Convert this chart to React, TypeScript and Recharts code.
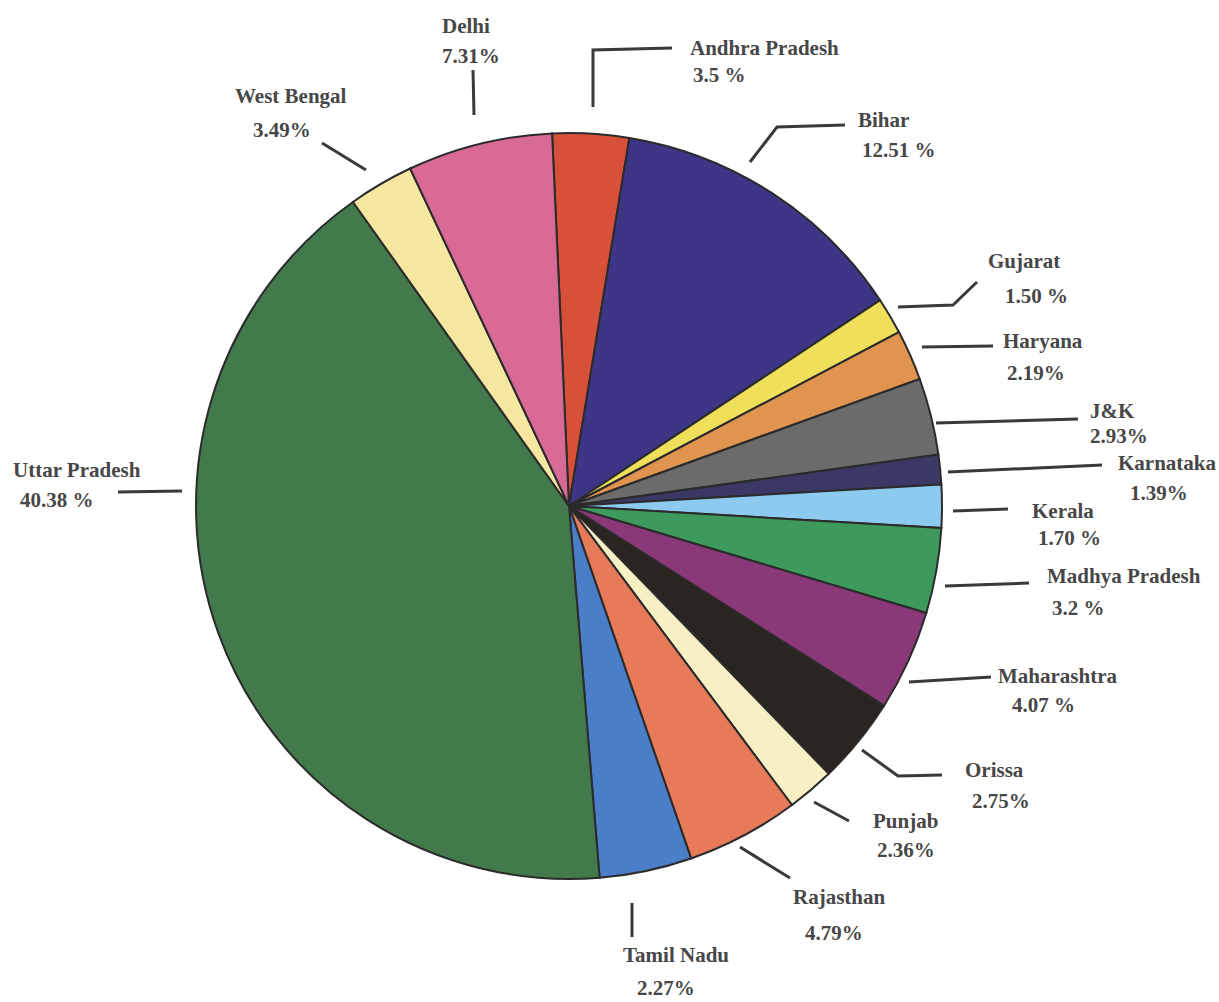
import React from 'react';
import { PieChart, Pie, Cell } from 'recharts';

// clockwise from the top, starting with Andhra Pradesh
const states = [
  'Andhra Pradesh', 'Bihar', 'Gujarat', 'Haryana', 'J&K', 'Karnataka', 'Kerala',
  'Madhya Pradesh', 'Maharashtra', 'Orissa', 'Punjab', 'Rajasthan', 'Tamil Nadu',
  'Uttar Pradesh', 'West Bengal', 'Delhi',
];

// slice sizes as drawn (percent of the circle)
const shares = [3.31, 13.11, 1.58, 2.19, 3.33, 1.28, 1.86, 3.69, 4.36, 3.75, 2.06, 4.89, 4.0, 41.47, 2.83, 6.28];

// printed percentages
const pctLabels = [
  '3.5 %', '12.51 %', '1.50 %', '2.19%', '2.93%', '1.39%', '1.70 %', '3.2 %',
  '4.07 %', '2.75%', '2.36%', '4.79%', '2.27%', '40.38 %', '3.49%', '7.31%',
];

const colors = [
  '#d9503a', '#3d3585', '#f0df5a', '#e09450', '#6b6b6b', '#3b3866', '#8ccaf0', '#3d9a5c',
  '#8a3878', '#2a2520', '#f6f0c4', '#e77a58', '#4a7ec8', '#427a4c', '#f5e6a0', '#d96a95',
];

const data = states.map((name, i) => ({ name, value: shares[i] }));

// leader lines and text spots, relative to the pie centre
const leaders: { line: number[][]; name: number[]; pct: number[] }[] = [
  { line: [[24, -399], [24, -456], [103, -458]], name: [121, -451], pct: [124, -424] },
  { line: [[181, -344], [208, -379], [276, -381]], name: [289, -379], pct: [293, -349] },
  { line: [[329, -199], [384, -201], [408, -224]], name: [419, -238], pct: [436, -203] },
  { line: [[353, -159], [424, -160]], name: [434, -158], pct: [438, -126] },
  { line: [[367, -83], [509, -87]], name: [521, -88], pct: [521, -63] },
  { line: [[379, -34], [533, -41]], name: [549, -36], pct: [561, -6] },
  { line: [[384, 5], [439, 3]], name: [463, 12], pct: [469, 39] },
  { line: [[376, 80], [460, 77]], name: [478, 77], pct: [483, 109] },
  { line: [[340, 176], [422, 171]], name: [429, 177], pct: [443, 206] },
  { line: [[293, 244], [329, 270], [373, 269]], name: [396, 271], pct: [403, 302] },
  { line: [[245, 296], [280, 315]], name: [304, 322], pct: [308, 351] },
  { line: [[171, 341], [221, 372]], name: [224, 398], pct: [236, 434] },
  { line: [[63, 397], [63, 431]], name: [54, 456], pct: [68, 489] },
  { line: [[-451, -14], [-387, -15]], name: [-556, -29], pct: [-549, 1] },
  { line: [[-247, -363], [-203, -336]], name: [-334, -403], pct: [-316, -369] },
  { line: [[-96, -436], [-95, -391]], name: [-127, -473], pct: [-127, -443] },
];

const serif = 'Liberation Serif, Tinos, Times New Roman, serif';

const renderLabel = (props: any) => {
  const { cx, cy, index } = props;
  const l = leaders[index];
  const pts = l.line.map(([x, y]) => `${cx + x},${cy + y}`).join(' ');
  const t = { fontFamily: serif, fontSize: 21, fontWeight: 700, fill: '#474747' };
  return (
    <g key={`lbl-${index}`}>
      <polyline points={pts} fill="none" stroke="#3a3a3a" strokeWidth={3} />
      <text x={cx + l.name[0]} y={cy + l.name[1]} {...t}>{states[index]}</text>
      <text x={cx + l.pct[0]} y={cy + l.pct[1]} {...t}>{pctLabels[index]}</text>
    </g>
  );
};

export default function App() {
  return (
    <div style={{ position: 'absolute', left: 0, top: 0, width: 1219, height: 1002, background: '#fff' }}>
      <PieChart width={1219} height={1002} margin={{ top: 0, right: 0, bottom: 0, left: 0 }}>
        <Pie
          data={data}
          dataKey="value"
          nameKey="name"
          cx={569}
          cy={506}
          outerRadius={373}
          startAngle={92.6}
          endAngle={-267.4}
          stroke="#2b2b2b"
          strokeWidth={2}
          label={renderLabel}
          labelLine={false}
          isAnimationActive={false}
        >
          {data.map((d, i) => (
            <Cell key={d.name} fill={colors[i]} />
          ))}
        </Pie>
      </PieChart>
    </div>
  );
}
